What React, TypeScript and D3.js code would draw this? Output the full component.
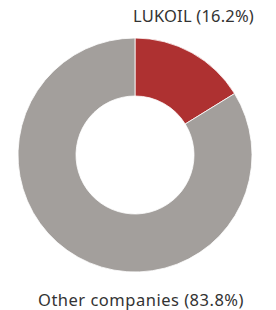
import React from 'react';
import * as d3 from 'd3';

const labels = ['LUKOIL', 'Other companies'];
const shares = [16.2, 83.8];
const colors = ['#ae3131', '#a39f9c'];

export default function App() {
  const width = 276;
  const height = 310;
  const cx = 135;
  const cy = 155;
  const outerR = 117;
  const innerR = 59;

  const pie = d3.pie<number>().sort(null).value(d => d);
  const arcs = pie(shares);
  const arc = d3.arc<d3.PieArcDatum<number>>().innerRadius(innerR).outerRadius(outerR);

  return (
    <svg width={width} height={height} style={{ position: 'absolute', left: 0, top: 0 }}>
      <g transform={`translate(${cx},${cy})`}>
        {arcs.map((a, i) => (
          <path key={i} d={arc(a) || ''} fill={colors[i]} stroke="#fff" strokeWidth={0.8} />
        ))}
      </g>
      <text x={133} y={22} fontFamily="Noto Sans" fontSize={16.5} letterSpacing={0.2} fill="#333">
        {`${labels[0]} (${shares[0].toFixed(1)}%)`}
      </text>
      <text x={141} y={306} textAnchor="middle" fontFamily="Noto Sans" fontSize={16.5} letterSpacing={0.5} fill="#333">
        {`${labels[1]} (${shares[1].toFixed(1)}%)`}
      </text>
    </svg>
  );
}
